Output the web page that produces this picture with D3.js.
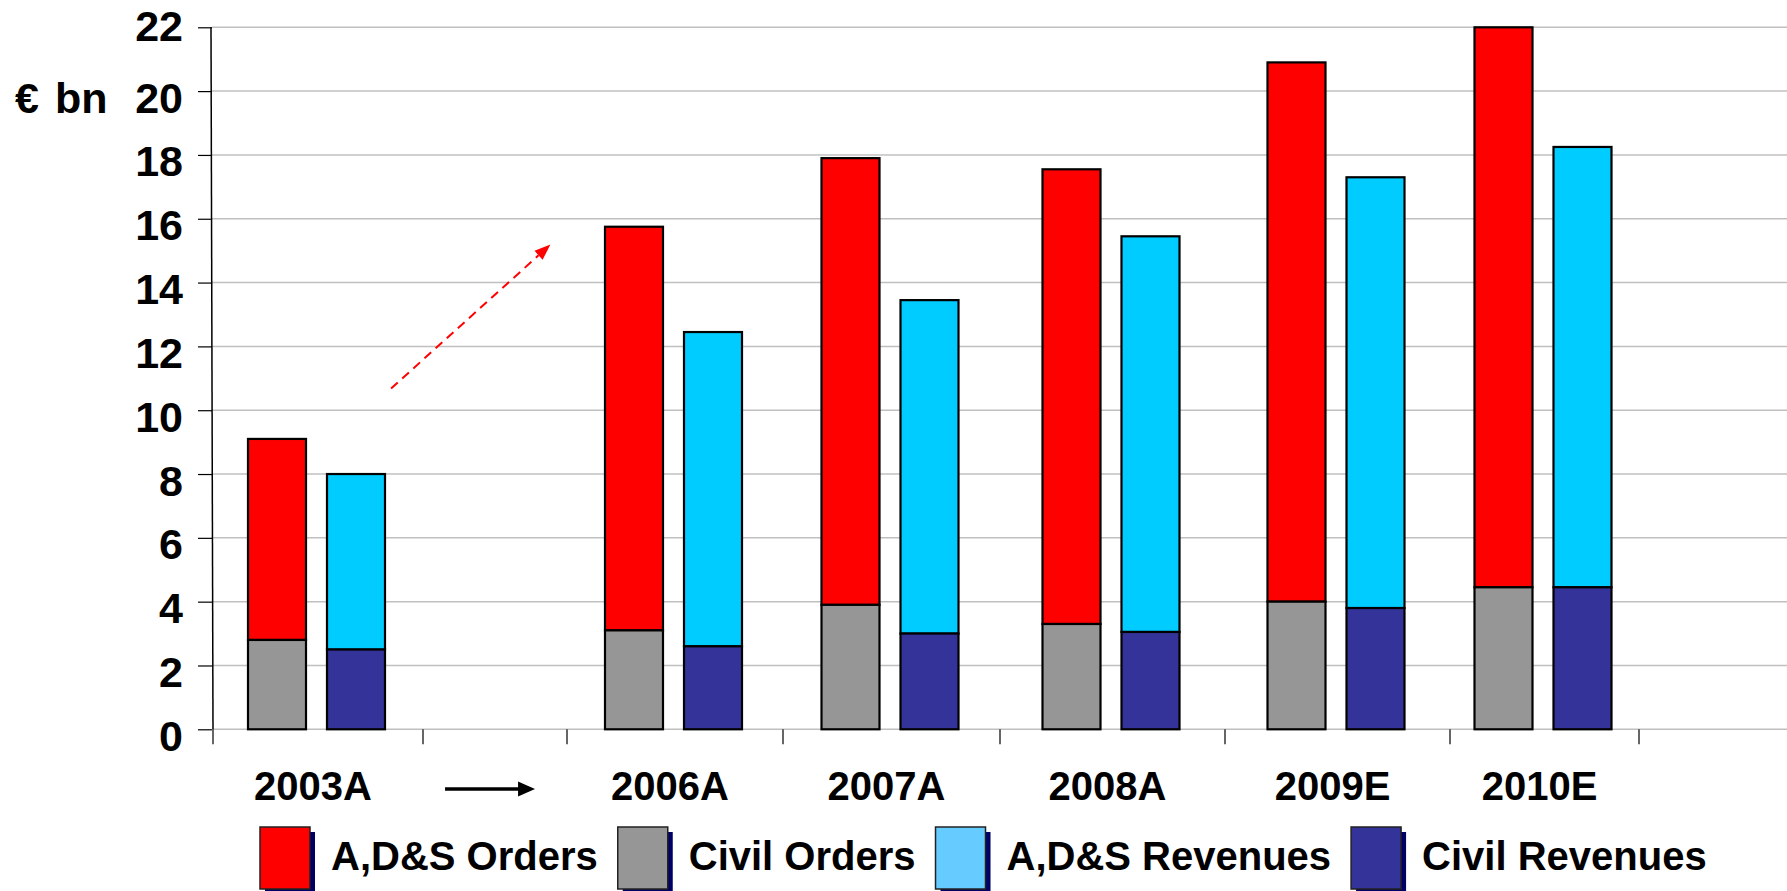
<!DOCTYPE html>
<html>
  <head>
    <script src="https://d3js.org/d3.v7.min.js"></script>
    <style type="text/css">
  body { margin: 0; background: #fff; }
  svg { display: block; font-family: "Liberation Sans", Arial, sans-serif; font-weight: bold; }
    </style>
  </head>
  <body>
  <div id="container"></div>
  <script type="text/javascript">

  // data (€bn)
  var categories    = ["2003A", "", "2006A", "2007A", "2008A", "2009E", "2010E"];
  var civilOrders   = [2.8, null, 3.1, 3.9, 3.3, 4.0, 4.45];
  var adsOrders     = [6.3, null, 12.65, 14.0, 14.25, 16.9, 17.55];
  var civilRevenues = [2.5, null, 2.6, 3.0, 3.05, 3.8, 4.45];
  var adsRevenues   = [5.5, null, 9.85, 10.45, 12.4, 13.5, 13.8];
  var yTicks = [0, 2, 4, 6, 8, 10, 12, 14, 16, 18, 20, 22];
  var legendLabels = ["A,D&S Orders", "Civil Orders", "A,D&S Revenues", "Civil Revenues"];

  var width = 1787, height = 891;
  var colors = { adsO: "#ff0000", civO: "#969696", adsR: "#00ccff", civR: "#333399" };
  var legendColors = ["#ff0000", "#969696", "#66ccff", "#333399"];

  var svg = d3.select("#container").append("svg")
      .attr("width", width)
      .attr("height", height);

  // slot edges are uneven in the original, so a piecewise scale
  var x = d3.scaleLinear()
      .domain(d3.range(8))
      .range([213, 423, 567, 783, 1000, 1225, 1450, 1639]);

  var y = d3.scaleLinear().domain([0, 22]).range([729.3, 27.3]);

  // gridlines
  svg.append("g")
    .selectAll("line")
    .data(yTicks)
    .enter().append("line")
      .attr("x1", 212).attr("x2", width)
      .attr("y1", function(d) { return y(d); })
      .attr("y2", function(d) { return y(d); })
      .attr("stroke", "#c0c0c0")
      .attr("stroke-width", 1.5);

  // y axis
  var yAxis = svg.append("g")
      .attr("transform", "translate(212,0)")
      .call(d3.axisLeft(y).tickValues(yTicks).tickSize(14).tickPadding(15));
  yAxis.select(".domain").remove();
  yAxis.selectAll(".tick line").attr("stroke", "#000").attr("stroke-width", 1.2);
  yAxis.selectAll(".tick text")
      .attr("font-size", 43)
      .attr("font-family", "'Liberation Sans', Arial, sans-serif")
      .attr("font-weight", "bold")
      .attr("fill", "#000")
      .attr("dy", function(d) { return d === 22 ? 13.5 : 21; });
  svg.append("line")
      .attr("x1", 211).attr("x2", 213)
      .attr("y1", y(22)).attr("y2", y(0))
      .attr("stroke", "#000").attr("stroke-width", 1.5);

  svg.append("text").attr("x", 15).attr("y", 113).attr("font-size", 43).text("€");
  svg.append("text").attr("x", 55).attr("y", 113).attr("font-size", 43).text("bn");

  // x ticks
  svg.append("g")
    .selectAll("line")
    .data(d3.range(8))
    .enter().append("line")
      .attr("x1", function(d) { return x(d); })
      .attr("x2", function(d) { return x(d); })
      .attr("y1", y(0)).attr("y2", y(0) + 15)
      .attr("stroke", "#333").attr("stroke-width", 1.5);

  // bars
  var barW = 58;
  var rows = categories.map(function(c, i) {
    return { cat: c, i: i, civO: civilOrders[i], adsO: adsOrders[i], civR: civilRevenues[i], adsR: adsRevenues[i] };
  }).filter(function(d) { return d.civO != null; });

  function drawStack(keyLow, keyHigh, offset) {
    var g = svg.append("g");
    rows.forEach(function(d) {
      var cx = x(d.i + 0.5) + offset;
      var low = d[keyLow], high = d[keyLow] + d[keyHigh];
      g.append("rect")
        .attr("x", cx - barW / 2).attr("width", barW)
        .attr("y", y(high)).attr("height", y(low) - y(high))
        .attr("fill", colors[keyHigh])
        .attr("stroke", "#000").attr("stroke-width", 2.2);
      g.append("rect")
        .attr("x", cx - barW / 2).attr("width", barW)
        .attr("y", y(low)).attr("height", y(0) - y(low))
        .attr("fill", colors[keyLow])
        .attr("stroke", "#000").attr("stroke-width", 2.2);
    });
  }
  drawStack("civO", "adsO", -41);
  drawStack("civR", "adsR", 38);

  // category labels
  svg.append("g")
    .selectAll("text")
    .data(categories.map(function(c, i) { return { c: c, i: i }; }).filter(function(d) { return d.c; }))
    .enter().append("text")
      .attr("x", function(d) { return x(d.i + 0.5) - 5; })
      .attr("y", 800)
      .attr("text-anchor", "middle")
      .attr("font-size", 40)
      .text(function(d) { return d.c; });

  // black arrow in the gap slot
  var ax1 = x(1.153), ax2 = x(1.778), ay = 789;
  svg.append("line")
      .attr("x1", ax1).attr("x2", ax2 - 14).attr("y1", ay).attr("y2", ay)
      .attr("stroke", "#000").attr("stroke-width", 3.5);
  svg.append("path")
      .attr("d", "M" + ax2 + "," + ay + "L" + (ax2 - 17) + "," + (ay - 7.5) + "L" + (ax2 - 17) + "," + (ay + 7.5) + "Z")
      .attr("fill", "#000");

  // dashed red growth arrow
  var p1 = [x(0.848), y(10.68)], p2 = [x(1.885), y(15.19)];
  var ang = Math.atan2(p2[1] - p1[1], p2[0] - p1[0]);
  var hl = 16, hw = 6;
  var bx = p2[0] - hl * Math.cos(ang), by = p2[1] - hl * Math.sin(ang);
  svg.append("line")
      .attr("x1", p1[0]).attr("y1", p1[1]).attr("x2", bx).attr("y2", by)
      .attr("stroke", "#ff0000").attr("stroke-width", 2)
      .attr("stroke-dasharray", "9,6");
  svg.append("path")
      .attr("d", "M" + p2[0] + "," + p2[1] +
        "L" + (bx + hw * Math.sin(ang)) + "," + (by - hw * Math.cos(ang)) +
        "L" + (bx - hw * Math.sin(ang)) + "," + (by + hw * Math.cos(ang)) + "Z")
      .attr("fill", "#ff0000");

  // legend
  var lx = 260, ly = 827;
  legendLabels.forEach(function(lab, i) {
    svg.append("rect").attr("x", lx + 5).attr("y", ly + 5).attr("width", 50).attr("height", 62)
      .attr("fill", "#000066");
    svg.append("rect").attr("x", lx).attr("y", ly).attr("width", 50).attr("height", 62)
      .attr("fill", legendColors[i]).attr("stroke", "#222").attr("stroke-width", 1.5);
    var t = svg.append("text").attr("x", lx + 71).attr("y", 870).attr("font-size", 40).text(lab);
    lx += 71 + t.node().getComputedTextLength() + 20;
  });

  </script>
  </body>
</html>
